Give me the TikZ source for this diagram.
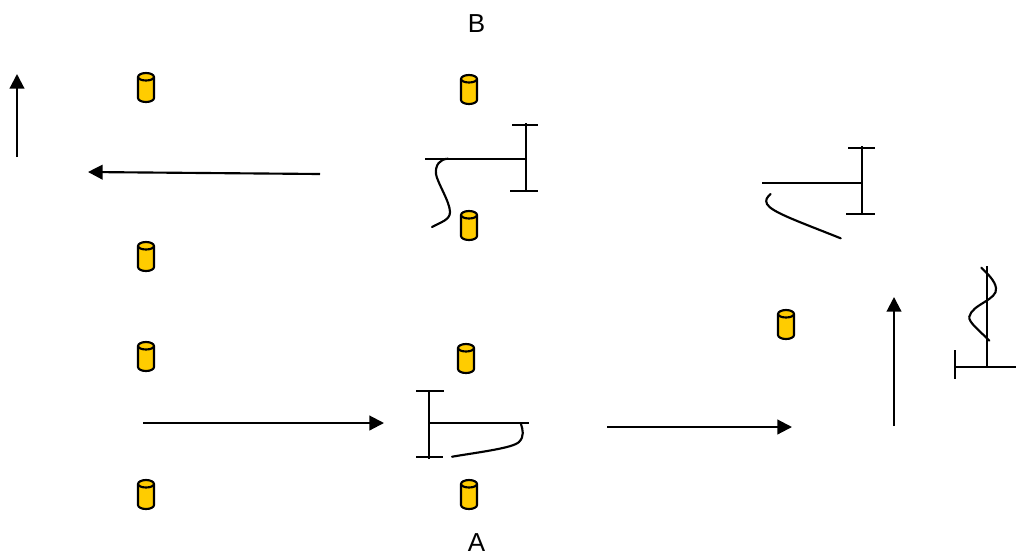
\documentclass[tikz,border=0pt]{standalone}
\usepackage{fontspec}
\setmainfont{Liberation Sans}
\usetikzlibrary{arrows.meta}
\definecolor{cylfill}{RGB}{255,204,0}
\tikzset{
  x=0.75pt,y=-0.75pt,
  linework/.style={line width=1.6pt,black},
  curveline/.style={line width=1.6pt,black,line cap=round},
  flow/.style={line width=1.6pt,black,-{Triangle[length=11pt,width=11pt]}},
  letter/.style={font=\fontsize{19.5pt}{21pt}\selectfont,inner sep=0pt,text=black},
  pics/can/.style={code={
    \draw[line width=1.6pt,fill=cylfill] (-8,4) -- (-8,25) arc[start angle=180,end angle=0,x radius=8,y radius=4] -- (8,4) arc[start angle=0,end angle=-180,x radius=8,y radius=4] -- cycle;
    \draw[line width=1.6pt] (-8,4) arc[start angle=180,end angle=0,x radius=8,y radius=3.5];
  }}
}
\begin{document}
\begin{tikzpicture}
\useasboundingbox (0,0) rectangle (1016,554);
\node[letter] (labelB) at (476.5,23.5) {B};
\node[letter] (labelA) at (476.5,543) {A};
% cylinders
\pic at (146,73) {can};
\pic at (469,75) {can};
\pic at (469,211) {can};
\pic at (146,242) {can};
\pic at (146,342) {can};
\pic at (466,344) {can};
\pic at (786,310) {can};
\pic at (146,480) {can};
\pic at (469,480) {can};
% arrows
\coordinate (a1s) at (320,174); \coordinate (a1e) at (88,172);
\coordinate (a2s) at (143,423); \coordinate (a2e) at (384,423);
\coordinate (a3s) at (607,427); \coordinate (a3e) at (792,427);
\coordinate (a4s) at (894,426); \coordinate (a4e) at (894,297);
\coordinate (a5s) at (17,157); \coordinate (a5e) at (17,74);
\draw[flow] (a1s) -- (a1e);
\draw[flow] (a2s) -- (a2e);
\draw[flow] (a3s) -- (a3e);
\draw[flow] (a4s) -- (a4e);
\draw[flow] (a5s) -- (a5e);
% profile top centre
\draw[linework] (425,159) -- (526,159);
\draw[linework] (526,123) -- (526,191);
\draw[linework] (512,125) -- (538,125);
\draw[linework] (510,191) -- (538,191);
\draw[curveline] (448,158.7) .. controls (440,159) and (435,165) .. (436,174) .. controls (437,182) and (450,202) .. (450,212) .. controls (450,220) and (441,222) .. (432,227);
% profile bottom centre
\draw[linework] (429,390) -- (429,459);
\draw[linework] (416,391) -- (444,391);
\draw[linework] (416,457) -- (443,457);
\draw[linework] (429,423) -- (529,423);
\draw[curveline] (520.7,423) .. controls (523,430) and (524.5,436.5) .. (519,442) .. controls (513,448) and (480,452) .. (452,456.7);
% profile top right
\draw[linework] (762,183) -- (862,183);
\draw[linework] (862,146) -- (862,214);
\draw[linework] (848,148) -- (875,148);
\draw[linework] (846,214) -- (875,214);
\draw[curveline] (770.7,194) .. controls (767,197) and (765,200) .. (767,204) .. controls (771,212) and (800,222) .. (840.7,238.3);
% profile far right
\draw[linework] (987,266) -- (987,367);
\draw[linework] (955,367) -- (1016,367);
\draw[linework] (955,350) -- (955,379);
\draw[curveline] (981.3,267.7) .. controls (988,274) and (995,281) .. (996,288) .. controls (998,300) and (972,304) .. (969.3,316.7) .. controls (968,322) and (980,331) .. (989.3,340.7);
\end{tikzpicture}
\end{document}
